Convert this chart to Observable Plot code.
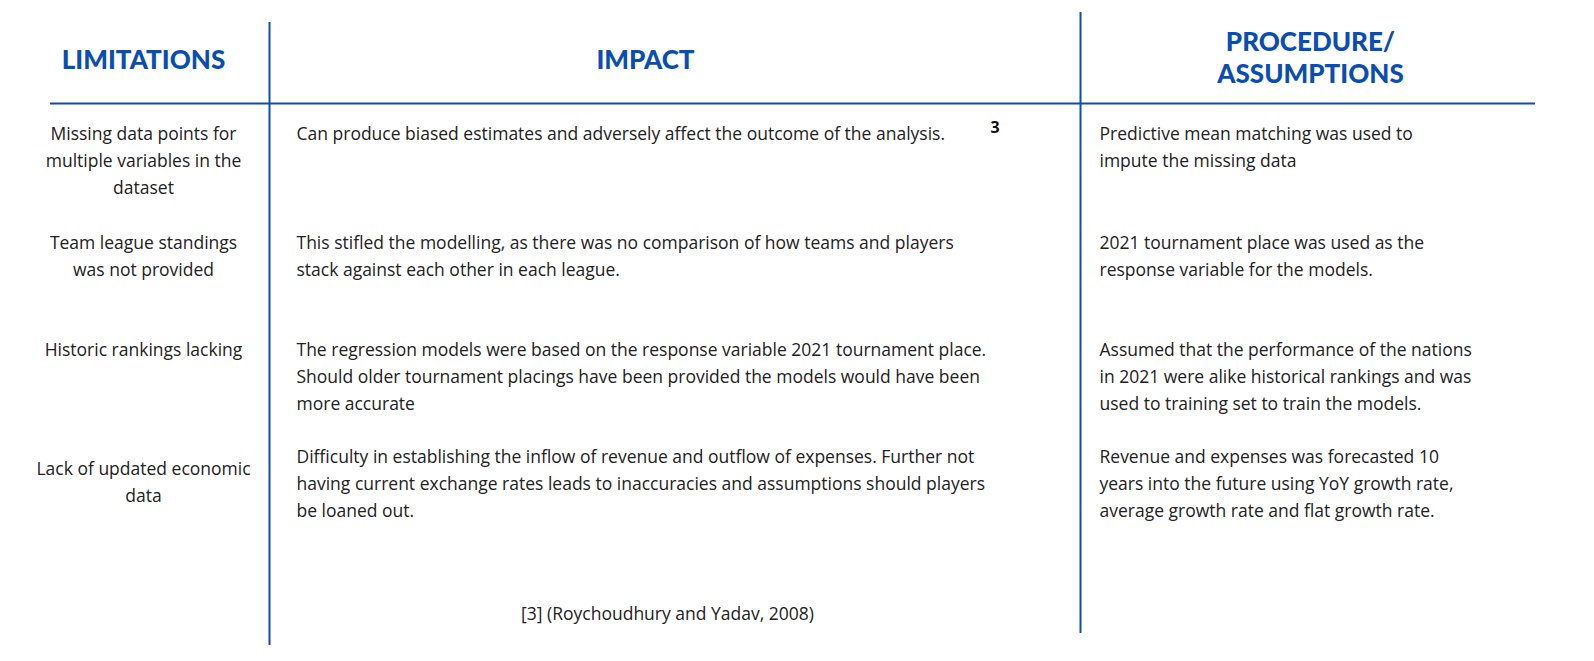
<!DOCTYPE html>
<html><head><meta charset="utf-8">
<script src="https://cdn.jsdelivr.net/npm/d3@7"></script>
<script src="https://cdn.jsdelivr.net/npm/@observablehq/plot@0.6"></script>
<style>html,body{margin:0;background:#fff;overflow:hidden}svg{display:block}</style>
</head><body><div id="chart"></div>
<script>
const headers = ["LIMITATIONS", "IMPACT", "PROCEDURE/\nASSUMPTIONS"];
const limitations = [
  "Missing data points for\nmultiple variables in the\ndataset",
  "Team league standings\nwas not provided",
  "Historic rankings lacking",
  "Lack of updated economic\ndata"
];
const impacts = [
  "Can produce biased estimates and adversely affect the outcome of the analysis.",
  "This stifled the modelling, as there was no comparison of how teams and players\nstack against each other in each league.",
  "The regression models were based on the response variable 2021 tournament place.\nShould older tournament placings have been provided the models would have been\nmore accurate",
  "Difficulty in establishing the inflow of revenue and outflow of expenses. Further not\nhaving current exchange rates leads to inaccuracies and assumptions should players\nbe loaned out."
];
const procedures = [
  "Predictive mean matching was used to\nimpute the missing data",
  "2021 tournament place was used as the\nresponse variable for the models.",
  "Assumed that the performance of the nations\nin 2021 were alike historical rankings and was\nused to training set to train the models.",
  "Revenue and expenses was forecasted 10\nyears into the future using YoY growth rate,\naverage growth rate and flat growth rate."
];
const footnoteMark = "3";
const footnote = "[3] (Roychoudhury and Yadav, 2008)";

// layout
const W = 1594, H = 661, blue = "#0b4eb3";
const rowTop = [120, 229, 336, 443];
const rowTopLim = [120, 229, 336, 455];
const colX = {lim: 143, imp: 296, proc: 1099};
const body = "'Open Sans', Lato, sans-serif";
const bodyStyle = "letter-spacing:0.35px";

const rows = limitations.map((l, i) => ({i, l, imp: impacts[i], proc: procedures[i]}));

const plot = Plot.plot({
  width: W, height: H, margin: 0,
  x: {type: "linear", domain: [0, W], range: [0, W], axis: null},
  y: {type: "linear", domain: [0, H], range: [0, H], axis: null},
  marks: [
    Plot.ruleX([269], {y1: 22, y2: 645, stroke: blue, strokeWidth: 2}),
    Plot.ruleX([1080], {y1: 12, y2: 633, stroke: blue, strokeWidth: 2}),
    Plot.ruleY([103], {x1: 50, x2: 1535, stroke: blue, strokeWidth: 2}),
    Plot.text(headers, {x: [143, 645, 1310], y: [58, 58, 56], text: d => d, fill: blue,
      fontSize: 26, fontWeight: 900, fontFamily: "Lato, sans-serif", lineHeight: 1.23,
      style: "letter-spacing:2.5px"}),
    Plot.text(rows, {x: colX.lim, y: d => rowTopLim[d.i], text: "l", textAnchor: "middle", lineAnchor: "top",
      fontSize: 17.5, fontFamily: body, fill: "#222", lineHeight: 1.55, style: bodyStyle}),
    Plot.text(rows, {x: colX.imp, y: d => rowTop[d.i], text: "imp", textAnchor: "start", lineAnchor: "top",
      fontSize: 17.5, fontFamily: body, fill: "#222", lineHeight: 1.55, style: bodyStyle}),
    Plot.text(rows, {x: colX.proc, y: d => rowTop[d.i], text: "proc", textAnchor: "start", lineAnchor: "top",
      fontSize: 17.5, fontFamily: body, fill: "#222", lineHeight: 1.55, style: bodyStyle}),
    Plot.text([footnoteMark], {x: 990, y: 127, text: d => d, fontSize: 16, fontWeight: "bold", fontFamily: body, fill: "#111", textAnchor: "start"}),
    Plot.text([footnote], {x: 667, y: 614, text: d => d, fontSize: 17.5, fontFamily: body, fill: "#222", style: bodyStyle})
  ]
});
document.getElementById("chart").append(plot);
</script></body></html>
